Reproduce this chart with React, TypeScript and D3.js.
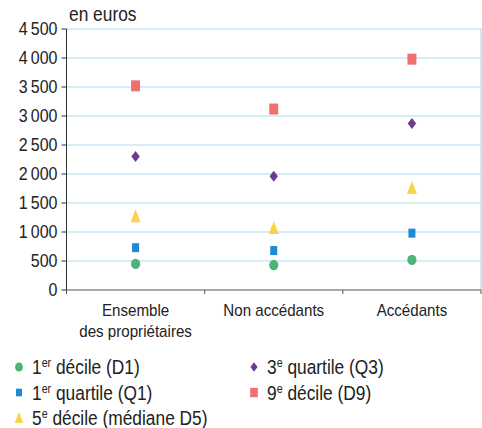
import React from "react";
import * as d3 from "d3";

const categories = ["Ensemble|des propriétaires", "Non accédants", "Accédants"];
const d1 = [450, 430, 520];
const q1 = [730, 680, 980];
const d5 = [1270, 1070, 1760];
const q3 = [2300, 1960, 2870];
const d9 = [3520, 3120, 3980];
const yTicks = [0, 500, 1000, 1500, 2000, 2500, 3000, 3500, 4000, 4500];

const colors = {
  d1: "#4cb477",
  q1: "#1d8bd3",
  d5: "#fbd34a",
  q3: "#6b3b8e",
  d9: "#f07070",
};

const W = 482, H = 428;
const FONT = "'Liberation Sans', Arial, sans-serif";
const SX = 0.89;

function fmt(v: number) {
  const s = String(v);
  return s.length > 3 ? s.slice(0, s.length - 3) + "\u2009" + s.slice(-3) : s;
}

function T({ x, y, children, anchor = "start", size = 17, dy }: any) {
  return (
    <g transform={`translate(${x},${y}) scale(${SX},1)`}>
      <text x={0} y={0} dy={dy} textAnchor={anchor} fontSize={size} fill="#222">{children}</text>
    </g>
  );
}

function Marker({ kind, x, y, s = 1 }: { kind: string; x: number; y: number; s?: number }) {
  if (kind === "d1") return <ellipse cx={x} cy={y} rx={4.6 * s} ry={5.2 * s} fill={colors.d1} />;
  if (kind === "q1") return <rect x={x - 3.5 * s} y={y - 4.5 * s} width={7 * s} height={9 * s} fill={colors.q1} />;
  if (kind === "d5")
    return <path d={`M${x},${y - 7 * s}L${x + 5 * s},${y + 6 * s}L${x - 5 * s},${y + 6 * s}Z`} fill={colors.d5} />;
  if (kind === "q3")
    return <path d={`M${x},${y - 5.5 * s}L${x + 4.2 * s},${y}L${x},${y + 5.5 * s}L${x - 4.2 * s},${y}Z`} fill={colors.q3} />;
  return <rect x={x - 4.5 * s} y={y - 5.5 * s} width={9 * s} height={11 * s} fill={colors.d9} />;
}

export default function App() {
  const x0 = 66.5, x1 = 481, y0 = 290, yTop = 29;
  const y = d3.scaleLinear().domain([0, 4500]).range([y0, yTop]);
  const xb = d3.scaleBand().domain(categories).range([x0, x1]);
  const cx = (i: number) => (xb(categories[i]) as number) + xb.bandwidth() / 2;
  const series: [string, number[]][] = [
    ["d1", d1], ["q1", q1], ["d5", d5], ["q3", q3], ["d9", d9],
  ];
  const legend = [
    { k: "d1", n: "1", sup: "er", t: " décile (D1)", col: 0, row: 0 },
    { k: "q1", n: "1", sup: "er", t: " quartile (Q1)", col: 0, row: 1 },
    { k: "d5", n: "5", sup: "e", t: " décile (médiane D5)", col: 0, row: 2 },
    { k: "q3", n: "3", sup: "e", t: " quartile (Q3)", col: 1, row: 0 },
    { k: "d9", n: "9", sup: "e", t: " décile (D9)", col: 1, row: 1 },
  ];
  return (
    <svg width={W} height={H} style={{ position: "absolute", left: 0, top: 0, fontFamily: FONT }}>
      <rect width={W} height={H} fill="#fff" />
      {yTicks.filter((t) => t > 0).map((t) => (
        <line key={t} x1={x0} x2={x1} y1={y(t)} y2={y(t)} stroke="#a9dcf1" strokeWidth={1.2} />
      ))}
      <line x1={x1} x2={x1} y1={yTop} y2={y0} stroke="#a9dcf1" strokeWidth={1.2} />
      <line x1={x0} x2={x0} y1={yTop} y2={y0} stroke="#333" strokeWidth={1} />
      <line x1={x0} x2={x1} y1={y0} y2={y0} stroke="#555" strokeWidth={1} />
      {yTicks.map((t) => (
        <g key={t}>
          <line x1={x0 - 5} x2={x0} y1={y(t)} y2={y(t)} stroke="#333" />
          <T x={x0 - 9} y={y(t)} dy="0.36em" anchor="end" size={18}>{fmt(t)}</T>
        </g>
      ))}
      {[...categories.map((c) => xb(c) as number), x1].map((v, i) => (
        <line key={i} x1={v} x2={v} y1={y0} y2={y0 + 4} stroke="#555" />
      ))}
      {categories.map((c, i) =>
        c.split("|").map((ln, j) => (
          <T key={c + j} x={cx(i)} y={316 + j * 21} anchor="middle" size={17}>{ln}</T>
        ))
      )}
      <T x={69} y={21} size={19.5}>en euros</T>
      {series.map(([k, vals]) =>
        vals.map((v, i) => <Marker key={k + i} kind={k} x={cx(i)} y={y(v)} />)
      )}
      {legend.map((l) => {
        const ly = 367 + l.row * 25.5;
        const mx = l.col === 0 ? 19 : 254;
        return (
          <g key={l.k}>
            <Marker kind={l.k} x={mx} y={ly} s={0.85} />
            <T x={mx + 13} y={ly + 7} size={19.5}>
              {l.n}
              <tspan fontSize={12} dy={-7}>{l.sup}</tspan>
              <tspan dy={7}>{l.t}</tspan>
            </T>
          </g>
        );
      })}
    </svg>
  );
}
